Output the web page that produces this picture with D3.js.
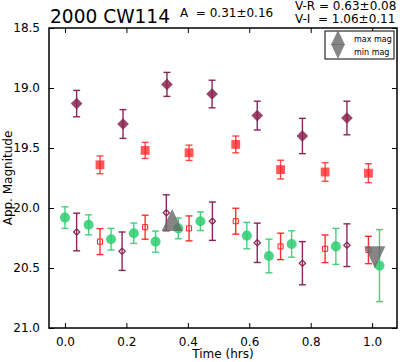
<!DOCTYPE html>
<html>
<head>
<meta charset="utf-8">
<script src="https://cdn.jsdelivr.net/npm/d3@7"></script>
<style>
  body { margin: 0; background: #fff; }
  text { font-family: "DejaVu Sans", sans-serif; fill: #000; }
</style>
</head>
<body>
<svg id="chart" width="400" height="362"></svg>
<script>
// light curve values (time in hrs, magnitude, error)
var vTime = [0.038, 0.189, 0.332, 0.479, 0.626, 0.773, 0.918];
var vMag = [19.13, 19.30, 18.97, 19.05, 19.23, 19.40, 19.25];
var vErr = [0.11, 0.12, 0.10, 0.115, 0.12, 0.147, 0.14];

var rTime = [0.114, 0.261, 0.404, 0.556, 0.702, 0.847, 0.988];
var rMag = [19.64, 19.52, 19.54, 19.47, 19.68, 19.70, 19.71];
var rErr = [0.074, 0.067, 0.064, 0.07, 0.078, 0.077, 0.079];

var gTime = [0.0, 0.077, 0.15, 0.224, 0.295, 0.369, 0.441, 0.592, 0.664, 0.738, 0.882, 1.024];
var gMag = [20.08, 20.14, 20.26, 20.21, 20.28, 20.17, 20.11, 20.23, 20.40, 20.30, 20.32, 20.48];
var gErr = [0.09, 0.083, 0.09, 0.085, 0.088, 0.086, 0.078, 0.11, 0.14, 0.11, 0.15, 0.30];

var rShiftTime = [0.114, 0.261, 0.404, 0.556, 0.702, 0.847, 0.988];
var rShiftMag = [20.28, 20.16, 20.17, 20.11, 20.32, 20.34, 20.35];
var rShiftErr = [0.108, 0.10, 0.104, 0.108, 0.11, 0.115, 0.114];

var vShiftTime = [0.038, 0.186, 0.33, 0.48, 0.626, 0.773, 0.918];
var vShiftMag = [20.20, 20.36, 20.04, 20.11, 20.29, 20.46, 20.31];
var vShiftErr = [0.157, 0.16, 0.15, 0.16, 0.164, 0.18, 0.178];

// extrema of the fit
var extremaTime = [0.349, 1.009];
var extremaMag = [20.10, 20.41];
var extremaLabels = ["max mag", "min mag"];

var xTicks = [0.0, 0.2, 0.4, 0.6, 0.8, 1.0];
var yTicks = [18.5, 19.0, 19.5, 20.0, 20.5, 21.0];

var title = "2000 CW114";
var ampText = "A  = 0.31\u00b10.16";
var colorTexts = ["V-R = 0.63\u00b10.08", "V-I  = 1.06\u00b10.11"];

// plot box
var plotLeft = 49, plotRight = 397, plotTop = 28, plotBottom = 328;
var svg = d3.select("#chart");

var xScale = d3.scaleLinear().domain([-0.052, 1.081]).range([plotLeft, plotRight]);
var yScale = d3.scaleLinear().domain([18.5, 21.0]).range([plotTop, plotBottom]);

const zip = (t, m, e) => t.map((d, i) => ({t: d, m: m[i], e: e[i]}));

// error bars + markers
function drawSeries(data, opt) {
    var g = svg.append("g");
    var bars = g.selectAll("g.eb").data(data).join("g");
    bars.append("line")
        .attr("x1", d => xScale(d.t)).attr("x2", d => xScale(d.t))
        .attr("y1", d => yScale(d.m - d.e)).attr("y2", d => yScale(d.m + d.e));
    bars.append("line")
        .attr("x1", d => xScale(d.t) - 3.5).attr("x2", d => xScale(d.t) + 3.5)
        .attr("y1", d => yScale(d.m - d.e)).attr("y2", d => yScale(d.m - d.e));
    bars.append("line")
        .attr("x1", d => xScale(d.t) - 3.5).attr("x2", d => xScale(d.t) + 3.5)
        .attr("y1", d => yScale(d.m + d.e)).attr("y2", d => yScale(d.m + d.e));
    bars.selectAll("line")
        .attr("stroke", opt.barColor)
        .attr("stroke-width", 1.4)
        .attr("stroke-opacity", opt.barOpacity);

    g.selectAll("path.mk").data(data).join("path")
        .attr("d", d3.symbol().type(opt.symbol).size(opt.size))
        .attr("transform", d => {
            var rot = opt.diamond ? " rotate(45)" : "";
            return "translate(" + xScale(d.t) + "," + yScale(d.m) + ")" + rot;
        })
        .attr("fill", opt.fill)
        .attr("fill-opacity", opt.fillOpacity)
        .attr("stroke", opt.stroke)
        .attr("stroke-width", opt.strokeWidth);
}

drawSeries(zip(vTime, vMag, vErr), {
    symbol: d3.symbolSquare, diamond: true, size: 68,
    fill: "#8b2252", fillOpacity: 0.85, stroke: "none", strokeWidth: 0,
    barColor: "#7f1048", barOpacity: 0.9
});
drawSeries(zip(rTime, rMag, rErr), {
    symbol: d3.symbolSquare, size: 78,
    fill: "#ff2020", fillOpacity: 0.75, stroke: "none", strokeWidth: 0,
    barColor: "#ff2020", barOpacity: 0.8
});
drawSeries(zip(gTime, gMag, gErr), {
    symbol: d3.symbolCircle, size: 80,
    fill: "#2ecc71", fillOpacity: 0.85, stroke: "none", strokeWidth: 0,
    barColor: "#2ecc71", barOpacity: 0.9
});
drawSeries(zip(rShiftTime, rShiftMag, rShiftErr), {
    symbol: d3.symbolSquare, size: 26,
    fill: "none", fillOpacity: 1, stroke: "#ff2020", strokeWidth: 1,
    barColor: "#ff1a1a", barOpacity: 0.9
});
drawSeries(zip(vShiftTime, vShiftMag, vShiftErr), {
    symbol: d3.symbolSquare, diamond: true, size: 20,
    fill: "none", fillOpacity: 1, stroke: "#8b2252", strokeWidth: 1.2,
    barColor: "#7f1048", barOpacity: 0.9
});

// extrema triangles
var triUp = "M0,-11L-10.5,11L10.5,11Z";
var triDown = "M0,11L-10.5,-11L10.5,-11Z";
svg.append("g").selectAll("path")
    .data(extremaTime)
    .join("path")
    .attr("d", (d, i) => i === 0 ? triUp : triDown)
    .attr("transform", (d, i) => "translate(" + xScale(d) + "," + yScale(extremaMag[i]) + ")")
    .attr("fill", "#666")
    .attr("fill-opacity", 0.8);

// frame and axes (ticks inside on all four sides)
var xAxisB = d3.axisBottom(xScale).tickValues(xTicks).tickSizeInner(-5).tickSizeOuter(0)
    .tickPadding(9).tickFormat(d3.format(".1f"));
var xAxisT = d3.axisTop(xScale).tickValues(xTicks).tickSizeInner(-5).tickSizeOuter(0).tickFormat("");
var yAxisL = d3.axisLeft(yScale).tickValues(yTicks).tickSizeInner(-5).tickSizeOuter(0)
    .tickPadding(9).tickFormat(d3.format(".1f"));
var yAxisR = d3.axisRight(yScale).tickValues(yTicks).tickSizeInner(-5).tickSizeOuter(0).tickFormat("");

function styleAxis(g) {
    g.select(".domain").remove();
    g.selectAll("line").attr("stroke", "#000").attr("stroke-width", 1);
    g.selectAll("text").attr("font-size", 12).attr("font-family", "DejaVu Sans").attr("fill", "#000");
}
svg.append("g").attr("transform", "translate(0," + plotBottom + ")").call(xAxisB).call(styleAxis);
svg.append("g").attr("transform", "translate(0," + plotTop + ")").call(xAxisT).call(styleAxis);
svg.append("g").attr("transform", "translate(" + plotLeft + ",0)").call(yAxisL).call(styleAxis);
svg.append("g").attr("transform", "translate(" + plotRight + ",0)").call(yAxisR).call(styleAxis);

svg.append("rect")
    .attr("x", plotLeft).attr("y", plotTop)
    .attr("width", plotRight - plotLeft).attr("height", plotBottom - plotTop)
    .attr("fill", "none").attr("stroke", "#000").attr("stroke-width", 1.5);

// axis labels
svg.append("text")
    .attr("x", (plotLeft + plotRight) / 2).attr("y", 358)
    .attr("text-anchor", "middle").attr("font-size", 12)
    .text("Time (hrs)");
svg.append("text")
    .attr("transform", "translate(12," + (plotTop + plotBottom) / 2 + ") rotate(-90)")
    .attr("text-anchor", "middle").attr("font-size", 12)
    .text("App. Magnitude");

// titles
svg.append("text").attr("x", 50).attr("y", 23).attr("font-size", 20)
    .attr("textLength", 120).attr("lengthAdjust", "spacingAndGlyphs")
    .text(title);
svg.append("text").attr("x", 180).attr("y", 17).attr("font-size", 12)
    .style("white-space", "pre").text(ampText);
svg.append("g").selectAll("text")
    .data(colorTexts)
    .join("text")
    .attr("x", 295).attr("y", (d, i) => 10 + i * 13)
    .attr("font-size", 12)
    .style("white-space", "pre")
    .text(d => d);

// legend
var legend = svg.append("g").attr("transform", "translate(325,31)");
legend.append("rect")
    .attr("width", 69).attr("height", 28)
    .attr("fill", "#fff").attr("stroke", "#000").attr("stroke-width", 1);
legend.selectAll("path")
    .data(extremaLabels)
    .join("path")
    .attr("d", (d, i) => i === 0 ? "M0,-8L-7,7L7,7Z" : "M0,7L-7,-8L7,-8Z")
    .attr("transform", (d, i) => "translate(13," + (i === 0 ? 7 : 21) + ")")
    .attr("fill", "#666").attr("fill-opacity", 0.8);
legend.selectAll("text")
    .data(extremaLabels)
    .join("text")
    .attr("x", 29).attr("y", (d, i) => 11 + i * 13)
    .attr("font-size", 8)
    .text(d => d);
</script>
</body>
</html>
